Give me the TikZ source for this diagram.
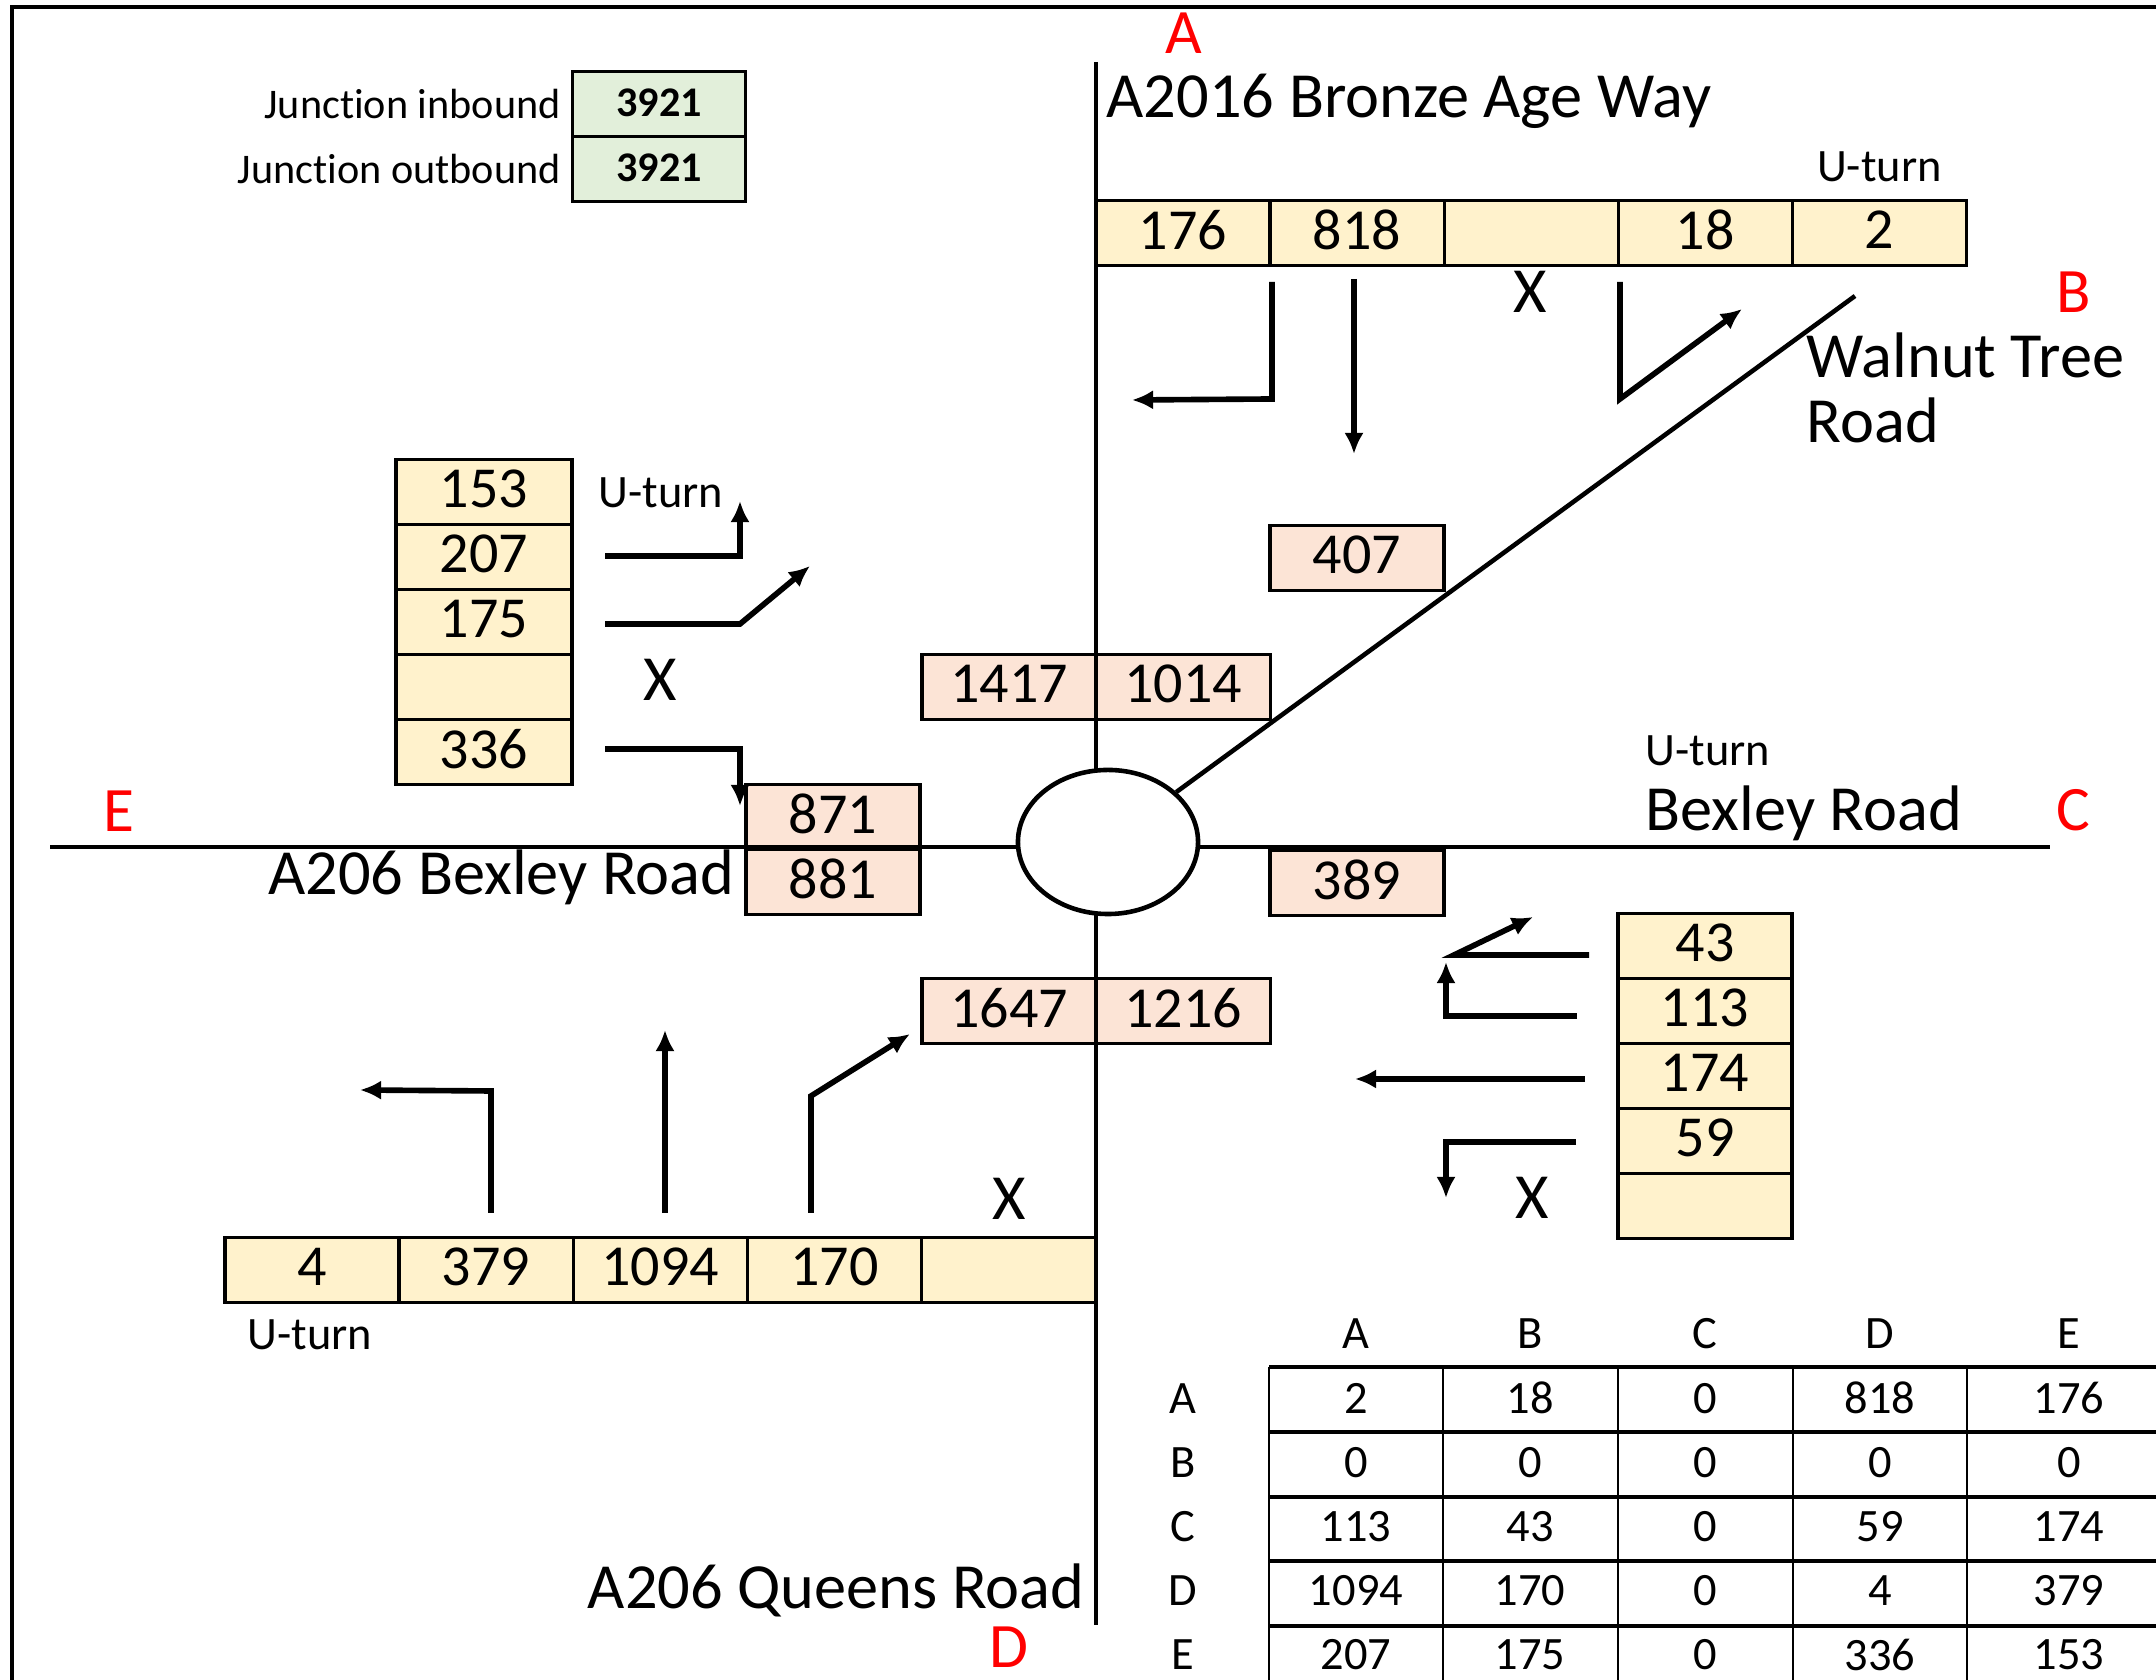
\documentclass[tikz,border=0pt]{standalone}
\usepackage{fontspec}
\setmainfont{Carlito}[Ligatures={NoCommon,NoRare}]
\usepackage{tikz}
\usetikzlibrary{arrows.meta,positioning,shapes.geometric}

\definecolor{inbound}{HTML}{FFF2CC}
\definecolor{outbound}{HTML}{FCE4D6}
\definecolor{totals}{HTML}{E2EFDA}

\begin{document}
\begin{tikzpicture}[
    x=0.01cm, y=-0.01cm,
    node distance=0pt,
    cell/.style={draw, line width=0.9pt, inner sep=0pt, outer sep=0pt, minimum width=1.74cm, minimum height=0.65cm, text depth=0.07cm, font=\fontsize{16.5}{19}\selectfont},
    inbox/.style={cell, fill=inbound},
    outbox/.style={cell, fill=outbound},
    totbox/.style={cell, fill=totals, minimum width=1.73cm, text depth=0.03cm, font=\fontsize{12}{14}\selectfont\bfseries},
    road/.style={line width=1.3pt},
    seta/.style={-{Latex[length=6pt,width=5.5pt]}, line width=1.6pt},
    roadname/.style={inner sep=0pt, font=\fontsize{18.3}{20}\selectfont},
    note/.style={inner sep=0pt, font=\fontsize{13.2}{15}\selectfont},
    arm/.style={inner sep=0pt, text=red, font=\fontsize{18}{20}\selectfont}
  ]
    \useasboundingbox (0,0) rectangle (2156,1680);
    \draw[line width=1.3pt] (12,1680) -- (12,7) -- (2156,7);

    \node[totbox] (jin) at (659,104) {3921};
    \node[totbox, below=of jin] (jout) {3921};
    \node[note, font=\fontsize{12}{14}\selectfont, left=0.11cm of jin] (jinlab) {Junction inbound};
    \node[note, font=\fontsize{12}{14}\selectfont, left=0.11cm of jout] (joutlab) {Junction outbound};

    \node[inbox] (a1) at (1183,233) {176};
    \node[inbox, right=of a1] (a2) {818};
    \node[inbox, right=of a2] (a3) {};
    \node[inbox, right=of a3] (a4) {18};
    \node[inbox, right=of a4] (a5) {2};
    \node[note, above=0.18cm of a5] (auturn) {U-turn};

    \node[inbox, minimum width=1.76cm] (e1) at (484,492) {153};
    \node[inbox, minimum width=1.76cm, below=of e1] (e2) {207};
    \node[inbox, minimum width=1.76cm, below=of e2] (e3) {175};
    \node[inbox, minimum width=1.76cm, below=of e3] (e4) {};
    \node[inbox, minimum width=1.76cm, below=of e4] (e5) {336};

    \node[inbox] (d1) at (312,1270) {4};
    \node[inbox, right=of d1] (d2) {379};
    \node[inbox, right=of d2] (d3) {1094};
    \node[inbox, right=of d3] (d4) {170};
    \node[inbox, right=of d4] (d5) {};

    \node[inbox] (c1) at (1705,946) {43};
    \node[inbox, below=of c1] (c2) {113};
    \node[inbox, below=of c2] (c3) {174};
    \node[inbox, below=of c3] (c4) {59};
    \node[inbox, below=of c4] (c5) {};

    \node[outbox] (n407) at (1357,558) {407};
    \node[outbox] (n1417) at (1009,687) {1417};
    \node[outbox, right=of n1417] (n1014) {1014};
    \node[outbox] (n871) at (833,817) {871};
    \node[outbox, below=of n871] (n881) {881};
    \node[outbox] (n389) at (1357,883) {389};
    \node[outbox] (n1647) at (1009,1011) {1647};
    \node[outbox, right=of n1647] (n1216) {1216};

    \draw[road] (1096,62) -- (1096,1625);
    \draw[road] (50,847) -- (2050,847);
    \node[draw, ellipse, line width=1.3pt, fill=white, inner sep=0pt, minimum width=1.8cm, minimum height=1.44cm] (rb) at (1108,842) {};
    \draw[road] (1855,296) -- (rb);

    \node[roadname, anchor=base west] (aname) at (1106,118) {A2016 Bronze Age Way};
    \node[roadname, anchor=base west] (bname) at (1806,378) {Walnut Tree};
    \node[roadname, anchor=base west] (bname2) at (1806,443) {Road};
    \node[roadname, anchor=base west] (cname) at (1645,831) {Bexley Road};
    \node[note, anchor=base west] (cuturn) at (1645,766) {U-turn};
    \node[roadname, anchor=base east] (dname) at (1085,1609) {A206 Queens Road};
    \node[note, anchor=base] (duturn) at (310,1350) {U-turn};
    \node[roadname, anchor=base east] (ename) at (735,895) {A206 Bexley Road};
    \node[note, anchor=base west] (euturn) at (598,508) {U-turn};

    \node[arm] (armA) at (1184,33) {A};
    \node[arm] (armB) at (2074,292) {B};
    \node[arm] (armC) at (2073,810) {C};
    \node[arm] (armD) at (1009,1647) {D};
    \node[arm] (armE) at (119,811) {E};

    \node[roadname] (xa) at (1530,292) {X};
    \node[roadname] (xe) at (660,680) {X};
    \node[roadname] (xd) at (1009,1199) {X};
    \node[roadname] (xc) at (1532,1198) {X};

    \draw[seta] (1272,282) -- (1272,399) -- (1132,400);
    \draw[seta] (1354,279) -- (1354,454);
    \draw[seta] (1620,282) -- (1620,399) -- (1742,309);

    \draw[seta] (605,556) -- (740,556) -- (740,501);
    \draw[seta] (605,624) -- (740,624) -- (810,566);
    \draw[seta] (605,749) -- (740,749) -- (740,806);

    \draw[seta] (491,1213) -- (491,1091) -- (360,1090);
    \draw[seta] (665,1213) -- (665,1030);
    \draw[seta] (811,1213) -- (811,1096) -- (910,1034);

    \draw[seta] (1589,955) -- (1454,955) -- (1533,917);
    \draw[seta] (1577,1016) -- (1446,1016) -- (1446,962);
    \draw[seta] (1585,1079) -- (1355,1079);
    \draw[seta] (1576,1142) -- (1446,1142) -- (1446,1198);

    \foreach \y in {1367,1432,1497,1561,1626}
      \draw[line width=1pt] (1269,\y) -- (2156,\y);
    \foreach \x in {1269,1443,1618,1793,1967}
      \draw[line width=0.6pt] (\x,1367) -- (\x,1680);
    \foreach \r [count=\i] in {A,B,C,D,E}
      \node[note] (row\r) at (1183,{1334+64.2*\i}) {\r};
    \foreach \h/\cx/\vals in {A/1356/{2,0,113,1094,207}, B/1530/{18,0,43,170,175},
        C/1705/{0,0,0,0,0}, D/1880/{818,0,59,4,336}, E/2069/{176,0,174,379,153}} {
      \node[note] (col\h) at (\cx,1334) {\h};
      \foreach \v [count=\i] in \vals
        \node[note] (t\h\i) at (\cx,{1334+64.2*\i}) {\v};
    }
  \end{tikzpicture}
\end{document}
